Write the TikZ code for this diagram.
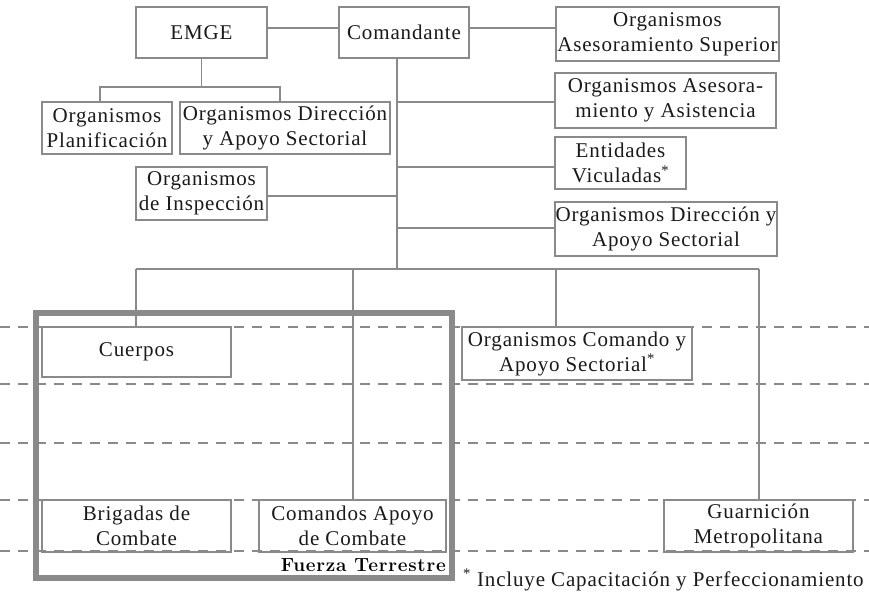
\documentclass[tikz,border=0pt]{standalone}
\usepackage{fontspec}
\newfontfamily\orgfont{Liberation Serif}[LetterSpace=4]
\newfontfamily\tagfont{Latin Modern Roman}[LetterSpace=4]
\definecolor{linegray}{HTML}{8A8A8A}
\definecolor{inkblack}{HTML}{1A1A1A}
\begin{document}
\begin{tikzpicture}[x=1pt,y=-1pt,
  org/.style={draw=linegray, line width=1.1pt, fill=white, align=center,
    inner sep=0pt, text=inkblack, font=\orgfont\fontsize{21}{25}\selectfont},
  link/.style={draw=linegray, line width=1.1pt},
  tier/.style={draw=linegray, line width=2.5pt, dash pattern=on 10pt off 8pt},
  frame/.style={draw=linegray, line width=5.5pt}]
\useasboundingbox (0,0) rectangle (869,599);

% headquarters level
\node[org, minimum width=131pt, minimum height=51pt] (emge) at (201.5,32.5) {EMGE};
\node[org, minimum width=130pt, minimum height=51pt] (cmd) at (404,32.5) {Comandante};
\node[org, minimum width=223pt, minimum height=54pt] (oas) at (667.5,34) {Organismos\\Asesoramiento Superior};
\node[org, minimum width=130pt, minimum height=52pt] (plan) at (107,128) {Organismos\\Planificación};
\node[org, minimum width=210pt, minimum height=52pt] (dirL) at (285,128) {Organismos Dirección\\y Apoyo Sectorial};
\node[org, minimum width=221pt, minimum height=55pt] (oaa) at (665.5,100.5) {Organismos Asesora-\\miento y Asistencia};
\node[org, minimum width=131pt, minimum height=53pt] (insp) at (201.5,193.5) {Organismos\\de Inspección};
\node[org, minimum width=131pt, minimum height=52pt] (ent) at (620.5,163) {Entidades\\Viculadas\textsuperscript{*}};
\node[org, minimum width=222pt, minimum height=54pt] (dirR) at (666,229) {Organismos Dirección y\\Apoyo Sectorial};

% subordinate units
\node[org, minimum width=189pt, minimum height=50pt] (cuer) at (136.5,352) {Cuerpos};
\node[org, minimum width=230pt, minimum height=53pt] (ocas) at (577,353.5) {Organismos Comando y\\Apoyo Sectorial\textsuperscript{*}};
\node[org, minimum width=189pt, minimum height=52pt] (brig) at (136.5,526) {Brigadas de\\Combate};
\node[org, minimum width=187pt, minimum height=52pt] (cac) at (352.5,526) {Comandos Apoyo\\de Combate};
\node[org, minimum width=189pt, minimum height=52pt] (guar) at (758.5,526) {Guarnición\\Metropolitana};

% connector routing points
\coordinate (ytop) at (0,28);
\coordinate (xsp) at (397,0);
\coordinate (ebl) at (100,87);
\coordinate (ebr) at (280,87);
\coordinate (b1) at (397,102);
\coordinate (b2) at (397,167);
\coordinate (b3) at (397,196);
\coordinate (b4) at (397,228);
\coordinate (bL) at (136,269);
\coordinate (bC1) at (353,269);
\coordinate (bC2) at (556,269);
\coordinate (bR) at (759,269);

\draw[link] (emge.east |- ytop) -- (cmd.west |- ytop);
\draw[link] (cmd.east |- ytop) -- (oas.west |- ytop);
\draw[link] (emge.south) -- (emge.south |- ebl);
\draw[link] (ebl |- plan.north) -- (ebl) -- (ebr) -- (ebr |- dirL.north);
\draw[link] (xsp |- cmd.south) -- (xsp |- bL);
\draw[link] (b1) -- (b1 -| oaa.west);
\draw[link] (b2) -- (b2 -| ent.west);
\draw[link] (b3) -- (b3 -| insp.east);
\draw[link] (b4) -- (b4 -| dirR.west);
\draw[link] (bL) -- (bR);
\draw[link] (bL) -- (bL |- cuer.north);
\draw[link] (bC1) -- (bC1 |- cac.north);
\draw[link] (bC2) -- (bC2 |- ocas.north);
\draw[link] (bR) -- (bR |- guar.north);

% echelon guide lines
\foreach \yy in {327,384,443,500,551}
  \draw[tier] (0,\yy) -- (869,\yy);

% land force frame
\draw[frame] (36,313) rectangle (452,578);
\node[anchor=east, inner sep=0pt, text=black,
  font=\tagfont\bfseries\fontsize{19}{21}\selectfont] (ft) at (446,565) {Fuerza Terrestre};

% footnote
\node[anchor=west, inner sep=0pt, text=inkblack,
  font=\orgfont\fontsize{21}{25}\selectfont] (note) at (463,580)
  {\textsuperscript{*} Incluye Capacitación y Perfeccionamiento};
\end{tikzpicture}
\end{document}
